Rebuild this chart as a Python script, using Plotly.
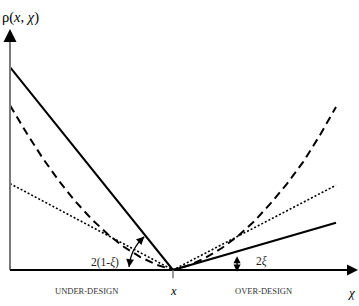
import math
import plotly.graph_objects as go

# ---- data (chart units: chi normalised so design point x = 1) ----
chi_solid = [0.0, 1.0, 2.0]
rho_solid = [1.245, 0.0, 0.29]

chi_dot = [0.0, 1.0, 2.0]
rho_dot = [0.53, 0.0, 0.52]

chi_dash = [0.0, 0.1, 0.2, 0.3, 0.4, 0.5, 0.6, 0.7, 0.8, 0.9, 1.0,
            1.1, 1.2, 1.3, 1.4, 1.5, 1.6, 1.7, 1.8, 1.9, 2.0]
rho_dash = [1.01, 0.843, 0.687, 0.547, 0.422, 0.313, 0.219, 0.141, 0.079, 0.032, 0.0,
            0.030, 0.075, 0.135, 0.21, 0.30, 0.41, 0.53, 0.665, 0.825, 1.00]

design_point = 1.0
axis_top = 1.479
axis_right = 2.135

W, H = 359, 306
X0 = -10 / 163
X1 = (W - 10) / 163
Y0 = -(H - 270) / 163
Y1 = 270 / 163

serif = "Liberation Serif"

fig = go.Figure()
fig.add_trace(go.Scatter(x=chi_solid, y=rho_solid, mode="lines",
                         line=dict(color="black", width=2), hoverinfo="skip"))
fig.add_trace(go.Scatter(x=chi_dash, y=rho_dash, mode="lines",
                         line=dict(color="black", width=2, dash="8px,5px"), hoverinfo="skip"))
fig.add_trace(go.Scatter(x=chi_dot, y=rho_dot, mode="lines",
                         line=dict(color="black", width=1.6, dash="2px,2px"), hoverinfo="skip"))

shapes = []
# y axis (gray) and x axis (black)
shapes.append(dict(type="line", xref="x", yref="y", x0=0, y0=0, x1=0, y1=axis_top - 0.03,
                   line=dict(color="#7a7a7a", width=2)))
shapes.append(dict(type="line", xref="x", yref="y", x0=0, y0=0, x1=axis_right - 0.03, y1=0,
                   line=dict(color="black", width=2)))
# tick at design point
shapes.append(dict(type="line", xref="x", yref="y", x0=design_point, y0=0, x1=design_point, y1=-0.05,
                   line=dict(color="#7a7a7a", width=1.5)))

# arc for 2(1-xi) centred on the design point
r = 0.27
a0 = math.radians(176)
a1 = math.radians(180 - math.degrees(math.atan(rho_solid[0] / design_point)) + 2)
n = 30
pts = []
for i in range(n + 1):
    a = a0 + (a1 - a0) * i / n
    pts.append((design_point + r * math.cos(a), r * math.sin(a)))
path = "M " + " L ".join(f"{px:.4f},{py:.4f}" for px, py in pts)
shapes.append(dict(type="path", xref="x", yref="y", path=path, line=dict(color="black", width=1.3)))

annotations = []

def arrow(x, y, ax, ay, width=1.5, size=1.0, color="black"):
    annotations.append(dict(x=x, y=y, ax=ax, ay=ay, xref="x", yref="y", axref="x", ayref="y",
                            text="", showarrow=True, arrowhead=2, arrowsize=size,
                            arrowwidth=width, arrowcolor=color, standoff=0, startstandoff=0))

# axis arrowheads
arrow(0, axis_top, 0, axis_top - 0.05, width=2, size=1.3)
arrow(axis_right, 0, axis_right - 0.05, 0, width=2, size=1.1)

# arc arrowheads
def arc_pt(a):
    return design_point + r * math.cos(a), r * math.sin(a)
ex, ey = arc_pt(a0)
tx, ty = arc_pt(a0 - 0.12)
arrow(ex, ey, tx, ty, width=1.3, size=1.2)
ex, ey = arc_pt(a1)
tx, ty = arc_pt(a1 + 0.12)
arrow(ex, ey, tx, ty, width=1.3, size=1.2)

# 2 xi double arrow
xa = 1.393
ytop = rho_solid[2] * (xa - design_point) / (chi_solid[2] - design_point) - 0.02
annotations.append(dict(x=xa, y=-0.01, ax=xa, ay=ytop, xref="x", yref="y", axref="x", ayref="y",
                        text="", showarrow=True, arrowhead=2, arrowside="end+start",
                        arrowsize=1.1, arrowwidth=1.3, arrowcolor="black", standoff=0, startstandoff=0))

def label(x, y, text, size, color="black", xanchor="center", italic=False):
    annotations.append(dict(x=x, y=y, xref="x", yref="y", text=text, showarrow=False,
                            xanchor=xanchor, yanchor="middle",
                            font=dict(family=serif, size=size, color=color,
                                      style="italic" if italic else "normal")))

label(0.19, 1.55, "ρ(<i>x</i>, <i>χ</i>)", 14.5, xanchor="right")
label(2.09, -0.135, "χ", 13, italic=True)
label(design_point, -0.13, "x", 12.5, italic=True)
label(0.472, -0.13, "UNDER-DESIGN", 8.5, color="#333333")
label(1.558, -0.13, "OVER-DESIGN", 8.5, color="#333333")
label(0.583, 0.049, "2(1-<i>ξ</i>)", 11.5, color="#222222")
label(1.54, 0.055, "2<i>ξ</i>", 11.5, color="#222222")

fig.update_layout(
    width=W, height=H, margin=dict(l=0, r=0, t=0, b=0),
    paper_bgcolor="white", plot_bgcolor="white", showlegend=False,
    xaxis=dict(range=[X0, X1], visible=False, fixedrange=True),
    yaxis=dict(range=[Y0, Y1], visible=False, fixedrange=True),
    shapes=shapes, annotations=annotations,
)

fig.write_html("out.html")
